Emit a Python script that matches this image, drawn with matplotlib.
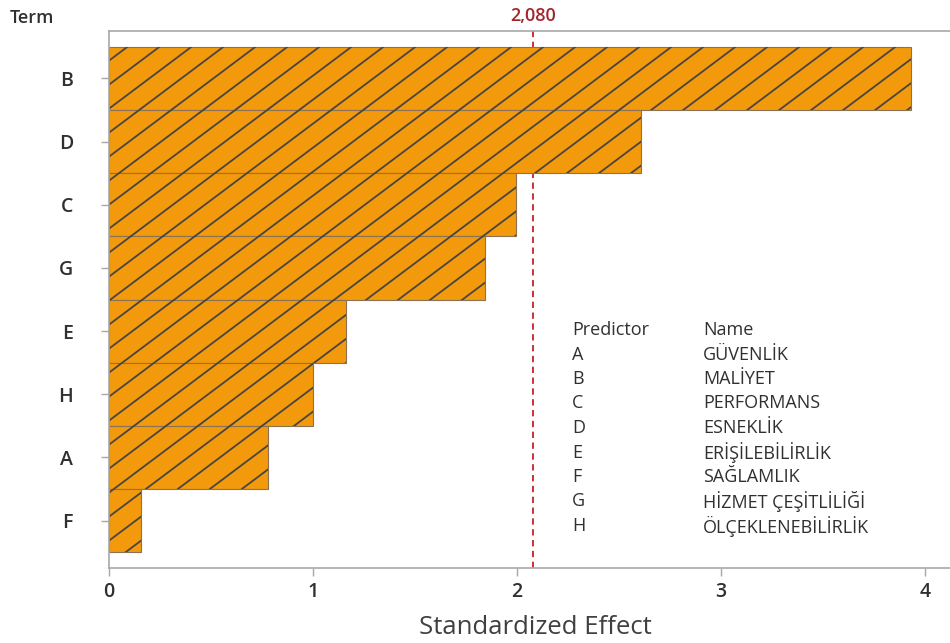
import numpy as np
import matplotlib
matplotlib.use("Agg")
import matplotlib.pyplot as plt
from matplotlib.collections import LineCollection
from matplotlib.transforms import IdentityTransform

plt.rcParams['font.family'] = ['Open Sans', 'DejaVu Sans']

# Pareto of standardized effects
terms = ['B', 'D', 'C', 'G', 'E', 'H', 'A', 'F']
effects = [3.93, 2.61, 1.995, 1.845, 1.16, 1.00, 0.78, 0.155]
critical = 2.080

predictors = ['A', 'B', 'C', 'D', 'E', 'F', 'G', 'H']
names = ['GÜVENLİK', 'MALİYET', 'PERFORMANS', 'ESNEKLİK', 'ERİŞİLEBİLİRLİK',
         'SAĞLAMLIK', 'HİZMET ÇEŞİTLİLİĞİ', 'ÖLÇEKLENEBİLİRLİK']

W, H = 950, 643
fig = plt.figure(figsize=(W / 100, H / 100), dpi=100)
# axes runs a little past the right edge of the picture, as in the source
ax = fig.add_axes([109 / W, 1 - 568 / H, (970 - 109) / W, (568 - 31) / H])

pos = np.arange(len(terms))
bars = ax.barh(pos, effects, height=1.0, color='#f39a0c', edgecolor='#8c7252',
               linewidth=0.8, zorder=2)
ax.axvline(critical, color='#c8202a', ls=(0, (3.5, 2.5)), lw=1.3, zorder=1)

# diagonal hatch lines drawn in pixel space, clipped to each bar
slope = 0.75
offsets = np.arange(44.6 - 24 * 40, H + 24, 24)
segs = [[(0, c), (W, slope * W + c)] for c in offsets]
for b in bars:
    lc = LineCollection(segs, colors='#48453f', linewidths=1.3,
                        transform=IdentityTransform(), zorder=2.5)
    ax.add_collection(lc)
    lc.set_clip_path(b)

ax.set_xlim(0, (970 - 109) / 204)
ax.set_ylim(len(terms) - 0.25, -0.75)
ax.set_yticks(pos)
ax.set_yticklabels(terms)
ax.set_xticks([0, 1, 2, 3, 4])

for s in ['left', 'bottom', 'top']:
    ax.spines[s].set_color('#a8a8a8')
    ax.spines[s].set_linewidth(1.2)
ax.spines['right'].set_visible(False)
ax.tick_params(axis='both', colors='#a8a8a8', length=6, width=1.0,
               labelcolor='#303030', labelsize=14)
ax.tick_params(axis='y', pad=20)
ax.tick_params(axis='x', pad=4)
for lab in ax.get_xticklabels() + ax.get_yticklabels():
    lab.set_fontweight('semibold')

fig.text(10 / W, 1 - 18 / H, 'Term', fontsize=13, fontweight='semibold',
         color='#303030', va='center', ha='left')
fig.text(535 / W, 1 - 627 / H, 'Standardized Effect', fontsize=18.5,
         color='#404040', va='center', ha='center')
fig.text(533 / W, 1 - 16 / H, '2,080', fontsize=13, fontweight='semibold',
         color='#a3262d', va='center', ha='center')

# predictor table
row_y = [330 + 24.5 * i for i in range(len(predictors) + 1)]
fig.text(572 / W, 1 - row_y[0] / H, 'Predictor', fontsize=13, color='#303030', va='center')
fig.text(703 / W, 1 - row_y[0] / H, 'Name', fontsize=13, color='#303030', va='center')
for i, (p, n) in enumerate(zip(predictors, names)):
    fig.text(572 / W, 1 - row_y[i + 1] / H, p, fontsize=13, color='#303030', va='center')
    fig.text(703 / W, 1 - row_y[i + 1] / H, n, fontsize=13, color='#303030', va='center')

fig.savefig('out.png', dpi=100)
